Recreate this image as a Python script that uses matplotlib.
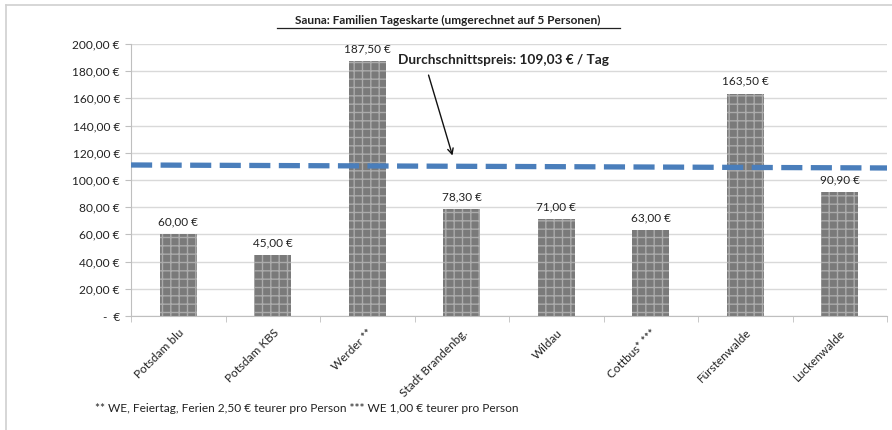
import matplotlib.pyplot as plt
import numpy as np

categories = ['Potsdam blu', 'Potsdam KBS', 'Werder **', 'Stadt Brandenbg.',
              'Wildau', 'Cottbus* ***', 'Fürstenwalde', 'Luckenwalde']
prices = [60.00, 45.00, 187.50, 78.30, 71.00, 63.00, 163.50, 90.90]
avg_line = [111.0, 108.8]  # dashed average line, left end / right end
avg_price = 109.03
yticks = [0, 20, 40, 60, 80, 100, 120, 140, 160, 180, 200]


def euro(v):
    if v == 0:
        return '-  €'
    return f'{v:,.2f} €'.replace(',', 'X').replace('.', ',').replace('X', '.')


plt.rcParams['font.family'] = ['Lato', 'DejaVu Sans']

fig = plt.figure(figsize=(8.92, 4.30), dpi=100)
ax = fig.add_axes([0.1469, 0.265, 0.8475, 0.633])

x = np.arange(len(categories))
bars = ax.bar(x, prices, width=0.39, color='#7a7a7a', edgecolor='#ababab',
              hatch='++', linewidth=0, zorder=2)

for xi, v in zip(x, prices):
    ax.text(xi, v + 5, euro(v), ha='center', va='bottom', fontsize=8.5, color='#222222')

ax.plot([-0.5, len(categories) - 0.5], avg_line, color='#4a7ebb', lw=3.8,
        dashes=(4.0, 1.6), zorder=3)

ax.annotate('', xy=(2.91, 116), xytext=(2.64, 179),
            arrowprops=dict(arrowstyle='->', color='#111111', lw=1.0))
ax.text(2.33, 188, f'Durchschnittspreis: {euro(avg_price)} / Tag', fontsize=9.8,
        fontweight='bold', va='center', ha='left', color='#222222')

ax.set_xlim(-0.5, len(categories) - 0.5)
ax.set_ylim(0, 200)
ax.set_yticks(yticks)
ax.set_yticklabels([euro(v) for v in yticks], fontsize=8.6, color='#222222')
ax.yaxis.grid(True, color='#d9d9d9', lw=1, zorder=0)
ax.set_axisbelow(True)

ax.set_xticks(x)
ax.set_xticklabels(categories, rotation=45, ha='right', rotation_mode='anchor',
                   fontsize=8.5, color='#222222')
ax.set_xticks(np.arange(-0.5, len(categories)), minor=True)
ax.tick_params(axis='x', which='major', length=0, pad=8)
ax.tick_params(axis='x', which='minor', length=4, color='#bfbfbf')
ax.tick_params(axis='y', length=4, color='#bfbfbf', pad=4)

for s in ['top', 'right']:
    ax.spines[s].set_visible(False)
for s in ['left', 'bottom']:
    ax.spines[s].set_color('#bfbfbf')

fig.text(0.502, 0.953, 'Sauna: Familien Tageskarte (umgerechnet auf 5 Personen)',
         ha='center', va='center', fontsize=8.6, fontweight='bold', color='#222222')
fig.add_artist(plt.Line2D([0.311, 0.695], [0.936, 0.936], color='#222222', lw=0.9))

fig.text(0.107, 0.05, '** WE, Feiertag, Ferien 2,50 € teurer pro Person *** WE 1,00 € teurer pro Person',
         ha='left', va='center', fontsize=8.6, color='#222222')

# outer frame (top and left edges visible)
fig.add_artist(plt.Line2D([0.007, 1.0], [0.988, 0.988], color='#d0d0d0', lw=1.2))
fig.add_artist(plt.Line2D([0.007, 0.007], [0.0, 0.988], color='#d0d0d0', lw=1.2))

fig.savefig('out.png', dpi=100)
